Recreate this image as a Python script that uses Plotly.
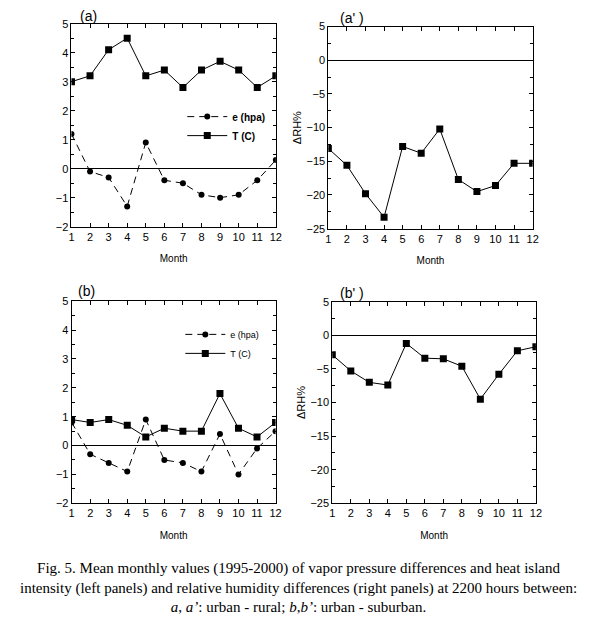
import plotly.graph_objects as go

months = list(range(1, 13))

# Panel (a): urban - rural
e_a = [1.2, -0.1, -0.3, -1.3, 0.9, -0.4, -0.5, -0.9, -1.0, -0.9, -0.4, 0.3]
T_a = [3.0, 3.2, 4.1, 4.5, 3.2, 3.4, 2.8, 3.4, 3.7, 3.4, 2.8, 3.2]
# Panel (a'): urban - rural, delta RH %
rh_a = [-13.1, -15.6, -19.8, -23.3, -12.8, -13.8, -10.2, -17.7, -19.5, -18.6, -15.3, -15.3]
# Panel (b): urban - suburban
e_b = [0.8, -0.3, -0.6, -0.9, 0.9, -0.5, -0.6, -0.9, 0.4, -1.0, -0.1, 0.5]
T_b = [0.9, 0.8, 0.9, 0.7, 0.3, 0.6, 0.5, 0.5, 1.8, 0.6, 0.3, 0.8]
# Panel (b'): urban - suburban, delta RH %
rh_b = [-2.9, -5.3, -7.0, -7.4, -1.2, -3.4, -3.5, -4.6, -9.5, -5.8, -2.3, -1.7]

W, H = 600, 627
def xd(a, b):
    return [a / W, b / W]
def yd(top, bottom):
    return [1 - bottom / H, 1 - top / H]

FONT = "Liberation Sans, Arial, sans-serif"
fig = go.Figure()

# (a)
fig.add_trace(go.Scatter(x=months, y=e_a, mode="lines+markers", name="<b>e (hpa)</b>",
                         line=dict(color="black", width=1, dash="7px,5px"),
                         marker=dict(symbol="circle", size=6, color="black"),
                         xaxis="x", yaxis="y", legend="legend"))
fig.add_trace(go.Scatter(x=months, y=T_a, mode="lines+markers", name="<b>T (C)</b>",
                         line=dict(color="black", width=1),
                         marker=dict(symbol="square", size=7, color="black"),
                         xaxis="x", yaxis="y", legend="legend"))
# (a')
fig.add_trace(go.Scatter(x=months, y=rh_a, mode="lines+markers", showlegend=False,
                         line=dict(color="black", width=1),
                         marker=dict(symbol="square", size=7, color="black"),
                         xaxis="x2", yaxis="y2"))
# (b)
fig.add_trace(go.Scatter(x=months, y=e_b, mode="lines+markers", name="e (hpa)",
                         line=dict(color="black", width=1, dash="7px,5px"),
                         marker=dict(symbol="circle", size=6, color="black"),
                         xaxis="x3", yaxis="y3", legend="legend2"))
fig.add_trace(go.Scatter(x=months, y=T_b, mode="lines+markers", name="T (C)",
                         line=dict(color="black", width=1),
                         marker=dict(symbol="square", size=7, color="black"),
                         xaxis="x3", yaxis="y3", legend="legend2"))
# (b')
fig.add_trace(go.Scatter(x=months, y=rh_b, mode="lines+markers", showlegend=False,
                         line=dict(color="black", width=1),
                         marker=dict(symbol="square", size=7, color="black"),
                         xaxis="x4", yaxis="y4"))

def xax(dom, anchor):
    return dict(domain=dom, anchor=anchor, range=[1, 12], tickmode="linear", tick0=1, dtick=1,
                ticks="inside", ticklen=4, mirror="allticks", showline=True, linecolor="black",
                linewidth=1, tickcolor="black", showgrid=False, zeroline=False,
                tickfont=dict(size=11, color="black"),
                title=dict(text="Month", font=dict(size=10, color="black"), standoff=13))

def yax(dom, anchor, rng, dt, title=None):
    d = dict(domain=dom, anchor=anchor, range=rng, tickmode="linear", tick0=rng[0], dtick=dt,
             ticks="inside", ticklen=4, mirror="allticks", showline=True, linecolor="black",
             linewidth=1, tickcolor="black", showgrid=False,
             zeroline=True, zerolinecolor="black", zerolinewidth=1,
             minor=dict(ticks="inside", ticklen=3, dtick=dt / 2, tickcolor="black"),
             tickfont=dict(size=11, color="black"))
    if title:
        d["title"] = dict(text=title, font=dict(size=11, color="black"), standoff=2)
    return d

fig.update_layout(
    width=W, height=H,
    margin=dict(l=0, r=0, t=0, b=0),
    paper_bgcolor="white", plot_bgcolor="white",
    font=dict(family=FONT, color="black"),
    xaxis=xax(xd(69.5, 277), "y"),
    yaxis=yax(yd(18, 225), "x", [-2, 5], 1),
    xaxis2=xax(xd(330.3, 537.7), "y2"),
    yaxis2=yax(yd(21, 227), "x2", [-25, 5], 5, "ΔRH%"),
    xaxis3=xax(xd(69.7, 276.7), "y3"),
    yaxis3=yax(yd(301, 507), "x3", [-2, 5], 1),
    xaxis4=xax(xd(334.3, 541), "y4"),
    yaxis4=yax(yd(301.5, 507), "x4", [-25, 5], 5, "ΔRH%"),
    legend=dict(x=182 / W, y=1 - 98 / H, xanchor="left", yanchor="top",
                bgcolor="rgba(0,0,0,0)", font=dict(size=10, color="black"),
                itemwidth=40, tracegroupgap=0),
    legend2=dict(x=180 / W, y=1 - 320 / H, xanchor="left", yanchor="top",
                 bgcolor="rgba(0,0,0,0)", font=dict(size=9, color="black"),
                 itemwidth=40, tracegroupgap=0),
)

labels = [("(a)", 87, 10), ("(a' )", 354, 12), ("(b)", 85, 291), ("(b' )", 354, 293)]
for txt, px, py in labels:
    fig.add_annotation(text=txt, x=px / W, y=1 - py / H, xref="paper", yref="paper",
                       xanchor="center", yanchor="middle",
                       showarrow=False, font=dict(size=14, color="black", family=FONT))

caption = ("Fig. 5. Mean monthly values (1995-2000) of vapor pressure differences and heat island<br>"
           "intensity (left panels) and relative humidity differences (right panels) at 2200 hours between:<br>"
           "<i>a</i>, <i>a’</i>: urban - rural; <i>b</i>,<i>b’</i>: urban - suburban.")
fig.add_annotation(text=caption, x=0.5, y=1 - 593 / H, xref="paper", yref="paper",
                   xanchor="center", yanchor="middle",
                   showarrow=False, align="center",
                   font=dict(size=15, color="black", family="Liberation Serif, Times New Roman, serif"))

fig.write_html("out.html", config={"displayModeBar": False},
               post_script="document.body.style.margin='0';document.body.style.padding='0';")
